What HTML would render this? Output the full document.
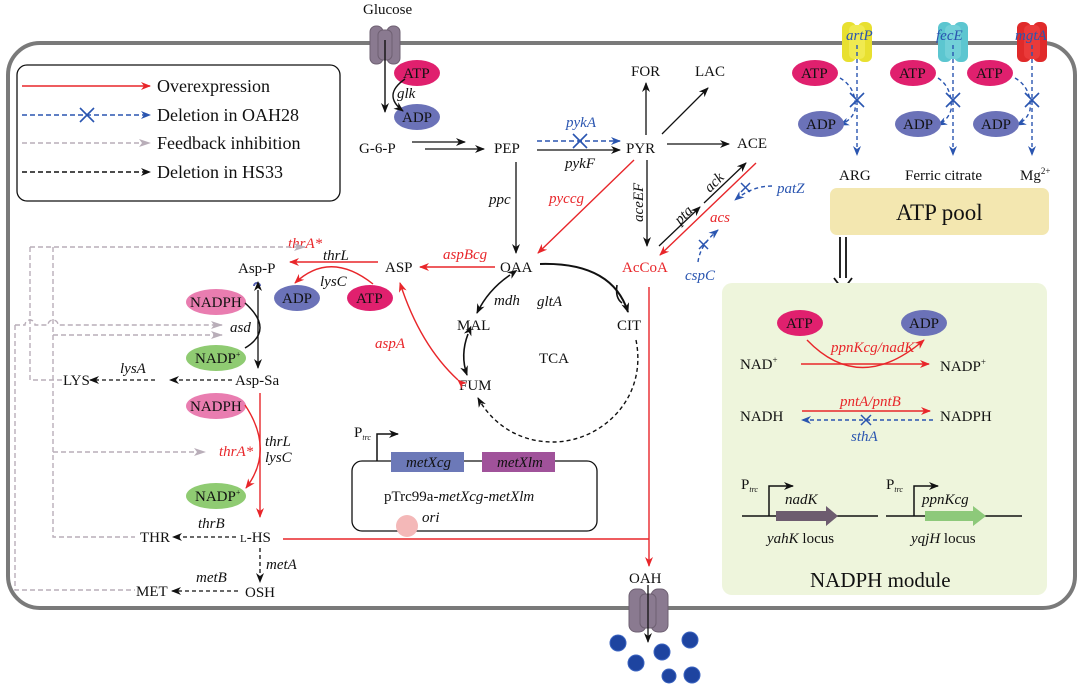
<!DOCTYPE html>
<html><head><meta charset="utf-8"><style>
html,body{margin:0;padding:0;background:#fff}
svg{display:block}
text{font-family:"Liberation Serif",serif;font-size:15px;fill:#111}
.i{font-style:italic}
.r{fill:#e8262a}
.b{fill:#2a55b0}
</style></head><body>
<svg width="1080" height="686" viewBox="0 0 1080 686" xmlns="http://www.w3.org/2000/svg">
<defs>
<marker id="ak" markerWidth="10" markerHeight="8" refX="9" refY="4" orient="auto" markerUnits="userSpaceOnUse"><path d="M0,0 L10,4 L0,8 L3,4z" fill="#111"/></marker>
<marker id="ar" markerWidth="10" markerHeight="8" refX="9" refY="4" orient="auto" markerUnits="userSpaceOnUse"><path d="M0,0 L10,4 L0,8 L3,4z" fill="#e8262a"/></marker>
<marker id="ab" markerWidth="10" markerHeight="8" refX="9" refY="4" orient="auto" markerUnits="userSpaceOnUse"><path d="M0,0 L10,4 L0,8 L3,4z" fill="#2a55b0"/></marker>
<marker id="ag" markerWidth="12" markerHeight="8" refX="11" refY="4" orient="auto" markerUnits="userSpaceOnUse"><path d="M0,0 L12,4 L0,8 L3,4z" fill="#b9aeb9"/></marker>
<marker id="aks" markerWidth="10" markerHeight="8" refX="1" refY="4" orient="auto-start-reverse" markerUnits="userSpaceOnUse"><path d="M0,0 L10,4 L0,8 L3,4z" fill="#111"/></marker>
</defs>

<!-- cell -->
<rect x="8" y="43" width="1067" height="565" rx="32" fill="none" stroke="#7a7a7a" stroke-width="4"/>

<!-- legend -->
<rect x="17" y="65" width="323" height="136" rx="10" fill="#fff" stroke="#111" stroke-width="1.3"/>
<line x1="22" y1="86" x2="150" y2="86" stroke="#e8262a" stroke-width="1.5" marker-end="url(#ar)"/>
<text x="157" y="92" style="font-size:18px">Overexpression</text>
<line x1="22" y1="115" x2="150" y2="115" stroke="#2a55b0" stroke-width="1.5" stroke-dasharray="5,3" marker-end="url(#ab)"/>
<path d="M80,108 l14,14 M94,108 l-14,14" stroke="#2a55b0" stroke-width="1.6"/>
<text x="157" y="121" style="font-size:18px">Deletion in OAH28</text>
<line x1="22" y1="143" x2="150" y2="143" stroke="#b9aeb9" stroke-width="1.5" stroke-dasharray="5,3" marker-end="url(#ag)"/>
<text x="157" y="149" style="font-size:18px">Feedback inhibition</text>
<line x1="22" y1="172" x2="150" y2="172" stroke="#111" stroke-width="1.5" stroke-dasharray="5,3" marker-end="url(#ak)"/>
<text x="157" y="178" style="font-size:18px">Deletion in HS33</text>

<!-- glucose transporter -->
<text x="363" y="14">Glucose</text>
<g fill="#8a7a90" stroke="#6e6072" stroke-width="1">
<rect x="370" y="26" width="13" height="38" rx="6"/><rect x="387" y="26" width="13" height="38" rx="6"/>
<rect x="378" y="30" width="14" height="30" rx="5"/>
</g>
<line x1="385" y1="40" x2="385" y2="112" stroke="#111" stroke-width="1.4" marker-end="url(#ak)"/>
<ellipse cx="417" cy="73" rx="23" ry="13" fill="#e0206e"/><text x="403" y="78">ATP</text>
<ellipse cx="417" cy="117" rx="23" ry="13" fill="#6b72b8"/><text x="402" y="122">ADP</text>
<path d="M405,79 Q382,95 403,111" fill="none" stroke="#111" stroke-width="1.4" marker-end="url(#ak)"/>
<text x="397" y="98" class="i">glk</text>

<text x="359" y="153">G-6-P</text>
<text x="494" y="153">PEP</text>
<text x="626" y="153">PYR</text>
<text x="737" y="148">ACE</text>
<text x="631" y="76">FOR</text>
<text x="695" y="76">LAC</text>
<line x1="412" y1="142" x2="465" y2="142" stroke="#111" stroke-width="1.3" marker-end="url(#ak)"/>
<line x1="425" y1="149" x2="484" y2="149" stroke="#111" stroke-width="1.3" marker-end="url(#ak)"/>
<line x1="537" y1="141" x2="620" y2="141" stroke="#2a55b0" stroke-width="1.5" stroke-dasharray="5,3" marker-end="url(#ab)"/>
<path d="M573,134 l14,14 M587,134 l-14,14" stroke="#2a55b0" stroke-width="1.6"/>
<text x="566" y="127" class="i b">pykA</text>
<line x1="537" y1="150" x2="620" y2="150" stroke="#111" stroke-width="1.3" marker-end="url(#ak)"/>
<text x="565" y="168" class="i">pykF</text>
<line x1="646" y1="135" x2="646" y2="83" stroke="#111" stroke-width="1.3" marker-end="url(#ak)"/>
<line x1="662" y1="134" x2="708" y2="88" stroke="#111" stroke-width="1.3" marker-end="url(#ak)"/>
<line x1="667" y1="144" x2="729" y2="144" stroke="#111" stroke-width="1.3" marker-end="url(#ak)"/>
<line x1="516" y1="162" x2="516" y2="253" stroke="#111" stroke-width="1.3" marker-end="url(#ak)"/>
<text x="489" y="204" class="i">ppc</text>
<line x1="634" y1="160" x2="538" y2="253" stroke="#e8262a" stroke-width="1.4" marker-end="url(#ar)"/>
<text x="549" y="203" class="i r">pyccg</text>
<line x1="647" y1="160" x2="647" y2="246" stroke="#111" stroke-width="1.3" marker-end="url(#ak)"/>
<text x="0" y="0" class="i" transform="translate(643,222) rotate(-90)">aceEF</text>
<line x1="659" y1="246" x2="700" y2="207" stroke="#111" stroke-width="1.3" marker-end="url(#ak)"/>
<line x1="704" y1="203" x2="746" y2="163" stroke="#111" stroke-width="1.3" marker-end="url(#ak)"/>
<text x="0" y="0" class="i" transform="translate(680,225) rotate(-45)">pta</text>
<text x="0" y="0" class="i" transform="translate(710,193) rotate(-45)">ack</text>
<line x1="756" y1="163" x2="660" y2="255" stroke="#e8262a" stroke-width="1.4" marker-end="url(#ar)"/>
<text x="710" y="222" class="i r">acs</text>
<path d="M772,186 Q752,186 735,200" fill="none" stroke="#2a55b0" stroke-width="1.4" stroke-dasharray="4,3" marker-end="url(#ab)"/>
<path d="M741,183 l9,9 M750,183 l-9,9" stroke="#2a55b0" stroke-width="1.5"/>
<text x="777" y="193" class="i b">patZ</text>
<path d="M698,262 Q700,245 718,230" fill="none" stroke="#2a55b0" stroke-width="1.4" stroke-dasharray="4,3" marker-end="url(#ab)"/>
<path d="M699,240 l9,9 M708,240 l-9,9" stroke="#2a55b0" stroke-width="1.5"/>
<text x="685" y="280" class="i b">cspC</text>

<text x="622" y="272" class="r">AcCoA</text>
<text x="500" y="272">OAA</text>
<text x="385" y="272">ASP</text>
<text x="457" y="330">MAL</text>
<text x="617" y="330">CIT</text>
<text x="459" y="390">FUM</text>
<text x="539" y="363">TCA</text>
<text x="537" y="306" class="i">gltA</text>
<text x="494" y="305" class="i">mdh</text>
<path d="M540,264 Q612,262 628,312" fill="none" stroke="#111" stroke-width="2" marker-end="url(#ak)"/>
<path d="M617,285 Q615,298 622,303" fill="none" stroke="#111" stroke-width="1.6"/>
<path d="M510,275 Q488,290 477,313" fill="none" stroke="#111" stroke-width="1.6" marker-start="url(#aks)" marker-end="url(#ak)"/>
<path d="M468,334 Q460,355 467,375" fill="none" stroke="#111" stroke-width="1.6" marker-start="url(#aks)" marker-end="url(#ak)"/>
<path d="M636,340 C648,400 600,442 553,442 C515,442 490,420 478,398" fill="none" stroke="#111" stroke-width="1.4" stroke-dasharray="4,3" marker-end="url(#ak)"/>
<line x1="495" y1="267" x2="420" y2="267" stroke="#e8262a" stroke-width="1.4" marker-end="url(#ar)"/>
<text x="443" y="259" class="i r">aspBcg</text>
<path d="M458,380 Q420,345 400,283" fill="none" stroke="#e8262a" stroke-width="1.4" marker-start="url(#ar)" marker-end="url(#ar)"/>
<text x="375" y="348" class="i r">aspA</text>

<!-- Asp branch -->
<text x="238" y="273">Asp-P</text>
<line x1="378" y1="262" x2="290" y2="262" stroke="#e8262a" stroke-width="1.4" marker-end="url(#ar)"/>
<text x="288" y="248" class="i r">thrA*</text>
<text x="323" y="260" class="i">thrL</text>
<text x="320" y="286" class="i">lysC</text>
<ellipse cx="370" cy="298" rx="23" ry="13" fill="#e0206e"/><text x="356" y="303">ATP</text>
<ellipse cx="297" cy="298" rx="23" ry="13" fill="#6b72b8"/><text x="282" y="303">ADP</text>
<path d="M373,284 Q330,250 295,283" fill="none" stroke="#e8262a" stroke-width="1.4" marker-end="url(#ar)"/>
<path d="M254,286 a3,3 0 0 1 6,0" fill="none" stroke="#5560b0" stroke-width="2"/>
<line x1="258" y1="290" x2="258" y2="368" stroke="#111" stroke-width="1.3" marker-start="url(#aks)" marker-end="url(#ak)"/>
<ellipse cx="216" cy="302" rx="30" ry="13" fill="#e97db0"/><text x="190" y="307">NADPH</text>
<ellipse cx="216" cy="358" rx="30" ry="13" fill="#8fcb72"/><text x="195" y="363">NADP<tspan style="font-size:8px" dy="-6">+</tspan></text>
<path d="M245,303 Q275,330 245,348" fill="none" stroke="#111" stroke-width="1.5"/>
<text x="230" y="332" class="i">asd</text>
<text x="235" y="385">Asp-Sa</text>
<line x1="232" y1="380" x2="170" y2="380" stroke="#111" stroke-width="1.3" stroke-dasharray="4,3" marker-end="url(#ak)"/>
<line x1="155" y1="380" x2="90" y2="380" stroke="#111" stroke-width="1.3" stroke-dasharray="4,3" marker-end="url(#ak)"/>
<text x="120" y="373" class="i">lysA</text>
<text x="63" y="385">LYS</text>
<line x1="260" y1="393" x2="260" y2="517" stroke="#e8262a" stroke-width="1.4" marker-end="url(#ar)"/>
<ellipse cx="216" cy="406" rx="30" ry="13" fill="#e97db0"/><text x="190" y="411">NADPH</text>
<ellipse cx="216" cy="496" rx="30" ry="13" fill="#8fcb72"/><text x="195" y="501">NADP<tspan style="font-size:8px" dy="-6">+</tspan></text>
<path d="M245,405 Q275,450 246,488" fill="none" stroke="#e8262a" stroke-width="1.4" marker-end="url(#ar)"/>
<text x="265" y="446" class="i">thrL</text>
<text x="265" y="462" class="i">lysC</text>
<text x="219" y="456" class="i r">thrA*</text>
<text x="240" y="542"><tspan style="font-size:11px">L</tspan>-HS</text>
<line x1="236" y1="537" x2="173" y2="537" stroke="#111" stroke-width="1.3" stroke-dasharray="4,3" marker-end="url(#ak)"/>
<text x="198" y="528" class="i">thrB</text>
<text x="140" y="542">THR</text>
<line x1="260" y1="548" x2="260" y2="582" stroke="#111" stroke-width="1.3" stroke-dasharray="4,3" marker-end="url(#ak)"/>
<text x="266" y="569" class="i">metA</text>
<text x="245" y="597">OSH</text>
<line x1="238" y1="591" x2="172" y2="591" stroke="#111" stroke-width="1.3" stroke-dasharray="4,3" marker-end="url(#ak)"/>
<text x="196" y="582" class="i">metB</text>
<text x="136" y="596">MET</text>

<!-- feedback -->
<g fill="none" stroke="#b9aeb9" stroke-width="1.4" stroke-dasharray="5,3">
<path d="M30,247 H305" marker-end="url(#ag)"/>
<path d="M30,247 V380 H62"/>
<path d="M53,247 V537 H135"/>
<path d="M15,325 V590 H135"/>
<path d="M15,325 H25 a5,5 0 0 1 10,0 H48 a5,5 0 0 1 10,0 H222" marker-end="url(#ag)"/>
<path d="M53,335 H222" marker-end="url(#ag)"/>
<path d="M53,452 H205" marker-end="url(#ag)"/>
</g>

<!-- red to OAH -->
<path d="M283,539 H649" fill="none" stroke="#e8262a" stroke-width="1.4"/>
<line x1="649" y1="287" x2="649" y2="566" stroke="#e8262a" stroke-width="1.4" marker-end="url(#ar)"/>
<text x="629" y="583">OAH</text>
<g fill="#8a7a90" stroke="#6e6072" stroke-width="1">
<rect x="629" y="589" width="17" height="43" rx="7"/><rect x="651" y="589" width="17" height="43" rx="7"/>
<rect x="640" y="594" width="16" height="34" rx="5"/>
</g>
<line x1="648" y1="585" x2="648" y2="642" stroke="#111" stroke-width="1.3" marker-end="url(#ak)"/>
<g fill="#1e44a0" stroke="#3a63c0" stroke-width="1">
<circle cx="618" cy="643" r="8"/><circle cx="636" cy="663" r="8"/><circle cx="662" cy="652" r="8"/>
<circle cx="690" cy="640" r="8"/><circle cx="669" cy="676" r="7"/><circle cx="692" cy="675" r="8"/>
</g>

<!-- plasmid -->
<rect x="352" y="461" width="245" height="70" rx="10" fill="none" stroke="#111" stroke-width="1.3"/>
<path d="M377,461 V434 H398" fill="none" stroke="#111" stroke-width="1.5" marker-end="url(#ak)"/>
<text x="354" y="437">P<tspan style="font-size:8px" font-style="italic" dy="3">trc</tspan></text>
<rect x="391" y="452" width="73" height="20" fill="#6c79b8"/>
<text x="406" y="467" class="i">metXcg</text>
<rect x="482" y="452" width="73" height="20" fill="#a0529a"/>
<text x="497" y="467" class="i">metXlm</text>
<text x="384" y="501">pTrc99a-<tspan font-style="italic">metXcg</tspan>-<tspan font-style="italic">metXlm</tspan></text>
<circle cx="407" cy="526" r="11" fill="#f4b8b8"/>
<text x="422" y="522" class="i">ori</text>

<!-- right transporters -->
<g>
<rect x="842" y="22" width="14" height="40" rx="6" fill="#e8e030"/><rect x="858" y="22" width="14" height="40" rx="6" fill="#e8e030"/><rect x="849" y="25" width="16" height="34" rx="5" fill="#f0ea50"/>
<rect x="938" y="22" width="14" height="40" rx="6" fill="#5cc6d0"/><rect x="954" y="22" width="14" height="40" rx="6" fill="#5cc6d0"/><rect x="945" y="25" width="16" height="34" rx="5" fill="#72d0d8"/>
<rect x="1017" y="22" width="14" height="40" rx="6" fill="#e02a2a"/><rect x="1033" y="22" width="14" height="40" rx="6" fill="#e02a2a"/><rect x="1024" y="25" width="16" height="34" rx="5" fill="#ea3a3a"/>
</g>
<text x="846" y="40" class="i b">artP</text>
<text x="936" y="40" class="i b">fecE</text>
<text x="1015" y="40" class="i b">mgtA</text>
<g fill="none" stroke="#2a55b0" stroke-width="1.4" stroke-dasharray="4,3">
<line x1="857" y1="45" x2="857" y2="155" marker-end="url(#ab)"/>
<line x1="953" y1="45" x2="953" y2="155" marker-end="url(#ab)"/>
<line x1="1032" y1="45" x2="1032" y2="155" marker-end="url(#ab)"/>
<path d="M840,78 Q857,88 855,110 Q852,120 840,125" marker-end="url(#ab)"/>
<path d="M938,78 Q953,88 951,110 Q948,120 938,125" marker-end="url(#ab)"/>
<path d="M1015,78 Q1032,88 1030,110 Q1027,120 1017,125" marker-end="url(#ab)"/>
</g>
<g stroke="#2a55b0" stroke-width="1.6">
<path d="M850,93 l14,14 M864,93 l-14,14"/><path d="M946,93 l14,14 M960,93 l-14,14"/><path d="M1025,93 l14,14 M1039,93 l-14,14"/>
</g>
<ellipse cx="815" cy="73" rx="23" ry="13" fill="#e0206e"/><text x="801" y="78">ATP</text>
<ellipse cx="913" cy="73" rx="23" ry="13" fill="#e0206e"/><text x="899" y="78">ATP</text>
<ellipse cx="990" cy="73" rx="23" ry="13" fill="#e0206e"/><text x="976" y="78">ATP</text>
<ellipse cx="821" cy="124" rx="23" ry="13" fill="#6b72b8"/><text x="806" y="129">ADP</text>
<ellipse cx="918" cy="124" rx="23" ry="13" fill="#6b72b8"/><text x="903" y="129">ADP</text>
<ellipse cx="996" cy="124" rx="23" ry="13" fill="#6b72b8"/><text x="981" y="129">ADP</text>
<text x="839" y="180">ARG</text>
<text x="905" y="180">Ferric citrate</text>
<text x="1020" y="180">Mg<tspan style="font-size:9px" dy="-6">2+</tspan></text>
<rect x="830" y="188" width="219" height="47" rx="7" fill="#f3e7b0"/>
<text x="896" y="220" style="font-size:23px">ATP pool</text>
<line x1="840" y1="237" x2="840" y2="280" stroke="#111" stroke-width="1.8"/>
<line x1="846" y1="237" x2="846" y2="280" stroke="#111" stroke-width="1.8"/>
<path d="M834,278 L843,290 L852,278" fill="#fff" stroke="#111" stroke-width="1.8"/>

<!-- NADPH module -->
<rect x="722" y="283" width="325" height="312" rx="10" fill="#eef5dc"/>
<ellipse cx="800" cy="323" rx="23" ry="13" fill="#e0206e"/><text x="786" y="328">ATP</text>
<ellipse cx="924" cy="323" rx="23" ry="13" fill="#6b72b8"/><text x="909" y="328">ADP</text>
<text x="740" y="369">NAD<tspan style="font-size:9px" dy="-6">+</tspan></text>
<text x="940" y="371">NADP<tspan style="font-size:9px" dy="-6">+</tspan></text>
<line x1="801" y1="364" x2="929" y2="364" stroke="#e8262a" stroke-width="1.4" marker-end="url(#ar)"/>
<path d="M807,340 Q860,395 924,340" fill="none" stroke="#e8262a" stroke-width="1.4" marker-end="url(#ar)"/>
<text x="831" y="352" class="i r">ppnKcg/nadK</text>
<text x="740" y="421">NADH</text>
<text x="940" y="421">NADPH</text>
<line x1="802" y1="411" x2="930" y2="411" stroke="#e8262a" stroke-width="1.4" marker-end="url(#ar)"/>
<text x="840" y="406" class="i r">pntA/pntB</text>
<line x1="933" y1="420" x2="802" y2="420" stroke="#2a55b0" stroke-width="1.4" stroke-dasharray="4,3" marker-end="url(#ab)"/>
<path d="M861,415 l10,10 M871,415 l-10,10" stroke="#2a55b0" stroke-width="1.5"/>
<text x="851" y="441" class="i b">sthA</text>
<line x1="742" y1="516" x2="878" y2="516" stroke="#111" stroke-width="1.5"/>
<path d="M769,516 V486 H793" fill="none" stroke="#111" stroke-width="1.5" marker-end="url(#ak)"/>
<text x="741" y="489">P<tspan style="font-size:8px" font-style="italic" dy="3">trc</tspan></text>
<path d="M776,511 H826 V506 L838,516 L826,526 V521 H776z" fill="#6d5c6f"/>
<text x="785" y="504" class="i">nadK</text>
<text x="767" y="543"><tspan font-style="italic">yahK</tspan> locus</text>
<line x1="886" y1="516" x2="1022" y2="516" stroke="#111" stroke-width="1.5"/>
<path d="M914,516 V486 H938" fill="none" stroke="#111" stroke-width="1.5" marker-end="url(#ak)"/>
<text x="886" y="489">P<tspan style="font-size:8px" font-style="italic" dy="3">trc</tspan></text>
<path d="M925,511 H973 V506 L986,516 L973,526 V521 H925z" fill="#8dc97a"/>
<text x="922" y="504" class="i">ppnKcg</text>
<text x="911" y="543"><tspan font-style="italic">yqjH</tspan> locus</text>
<text x="810" y="587" style="font-size:21px">NADPH module</text>
</svg>
</body></html>
